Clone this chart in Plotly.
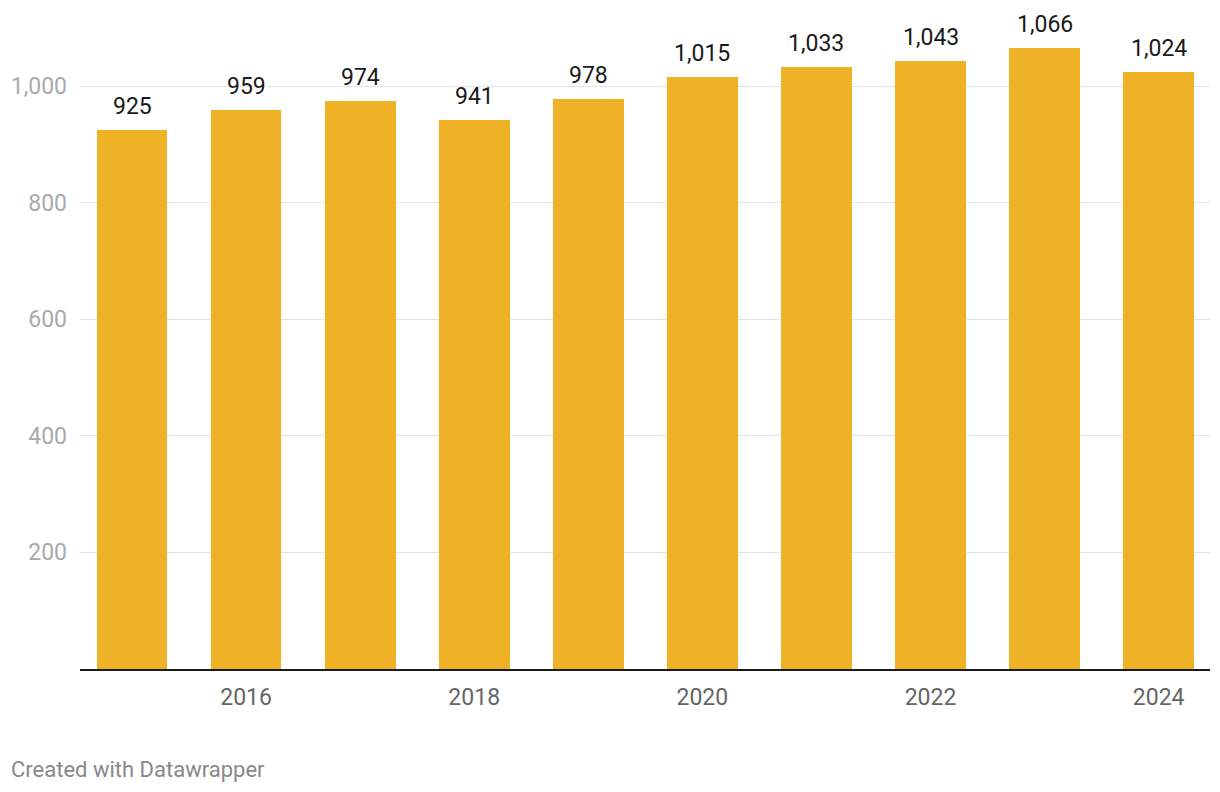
import plotly.graph_objects as go

years = [2015, 2016, 2017, 2018, 2019, 2020, 2021, 2022, 2023, 2024]
values = [925, 959, 974, 941, 978, 1015, 1033, 1043, 1066, 1024]
y_ticks = [200, 400, 600, 800, 1000]
y_tick_labels = ["200", "400", "600", "800", "1,000"]
x_ticks = [2016, 2018, 2020, 2022, 2024]

fig = go.Figure()
fig.add_trace(go.Bar(
    x=years, y=values, width=0.62,
    marker=dict(color="#EFB125", line=dict(width=0)),
    hoverinfo="x+y",
))

for x, v in zip(years, values):
    fig.add_annotation(
        x=x, y=v, text=f"{v:,}", showarrow=False,
        yanchor="bottom", yshift=8,
        font=dict(family="Roboto", size=23, color="#1a1a1a"),
    )

fig.add_annotation(
    xref="paper", yref="paper", x=-0.0628, y=-0.152,
    xanchor="left", yanchor="middle",
    text="Created with Datawrapper", showarrow=False,
    font=dict(family="Roboto", size=22, color="#888888"),
)

fig.update_layout(
    width=1220, height=792,
    margin=dict(l=80, r=10, t=10, b=123),
    paper_bgcolor="white", plot_bgcolor="white",
    showlegend=False,
    bargap=0,
    xaxis=dict(
        range=[2014.544, 2024.45],
        tickvals=x_ticks, ticktext=[str(t) for t in x_ticks],
        showgrid=False, zeroline=False,
        showline=True, linecolor="#1a1a1a", linewidth=2,
        ticks="", ticklabelstandoff=6,
        tickfont=dict(family="Roboto", size=23, color="#666666"),
    ),
    yaxis=dict(
        range=[0, 1130.4],
        tickvals=y_ticks, ticktext=y_tick_labels,
        showgrid=True, gridcolor="#e3e3e3", gridwidth=1,
        zeroline=False, showline=False,
        ticks="", ticklabelstandoff=12,
        tickfont=dict(family="Roboto", size=23, color="#aaaaaa"),
    ),
)

fig.write_html("out.html")
